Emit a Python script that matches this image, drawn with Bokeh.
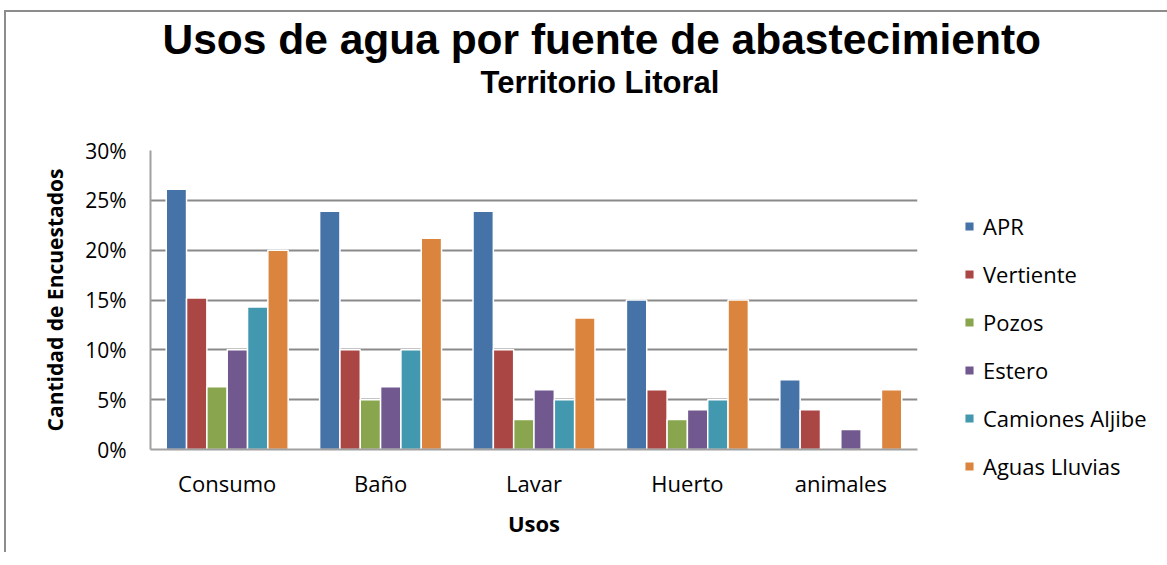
import numpy as np
from bokeh.plotting import figure
from bokeh.models import ColumnDataSource, FactorRange, Range1d, NumeralTickFormatter, Title, FixedTicker
from bokeh.transform import dodge
from bokeh.embed import file_html
from bokeh.resources import INLINE

usos = ["Consumo", "Baño", "Lavar", "Huerto", "animales"]
series_names = ["APR", "Vertiente", "Pozos", "Estero", "Camiones Aljibe", "Aguas Lluvias"]
apr = [0.261, 0.239, 0.239, 0.150, 0.070]
vertiente = [0.152, 0.100, 0.100, 0.060, 0.040]
pozos = [0.063, 0.050, 0.030, 0.030, 0.000]
estero = [0.100, 0.063, 0.060, 0.040, 0.020]
camiones = [0.143, 0.100, 0.050, 0.050, 0.000]
aguas = [0.200, 0.212, 0.132, 0.150, 0.060]
y_ticks = [0.0, 0.05, 0.10, 0.15, 0.20, 0.25, 0.30]

colors = ["#4572A7", "#AA4643", "#89A54E", "#71588F", "#4198AF", "#DB843D"]
all_series = [apr, vertiente, pozos, estero, camiones, aguas]

FONT = "Open Sans"

p = figure(
    x_range=FactorRange(*usos, range_padding=0),
    y_range=Range1d(0, 0.30),
    frame_width=767, frame_height=299,
    output_backend="svg", toolbar_location=None,
    min_border_left=144, min_border_right=234, min_border_top=138, min_border_bottom=103,
)
p.styles = {"margin-left": "4px", "margin-top": "10px",
            "border-left": "2px solid #8c8c8c", "border-top": "2px solid #8c8c8c"}

data = {"uso": usos}
for i, s in enumerate(all_series):
    data[f"s{i}"] = [v if v > 0 else np.nan for v in s]
src = ColumnDataSource(data)

pitch = 0.1325
for i, (name, col) in enumerate(zip(series_names, colors)):
    p.vbar(x=dodge("uso", (i - 2.5) * pitch, range=p.x_range), top=f"s{i}", width=pitch,
           source=src, fill_color=col, line_color="white", line_width=1.5, legend_label=name)

p.outline_line_color = None
p.xgrid.grid_line_color = None
p.ygrid.grid_line_color = "#8a8a8a"
p.ygrid.grid_line_width = 2

p.yaxis.ticker = FixedTicker(ticks=y_ticks)
p.yaxis.formatter = NumeralTickFormatter(format="0%")
for ax in (p.xaxis[0], p.yaxis[0]):
    ax.axis_line_color = "#a0a0a0"
    ax.axis_line_width = 2
    ax.major_tick_line_color = None
    ax.minor_tick_line_color = None
    ax.major_label_text_font = FONT
    ax.major_label_text_color = "black"
    ax.axis_label_text_font = FONT
    ax.axis_label_text_font_style = "bold"
    ax.axis_label_text_color = "black"

p.yaxis.major_label_text_font_size = "21px"
p.yaxis.major_label_standoff = 18
p.yaxis.axis_label = "Cantidad de Encuestados"
p.yaxis.axis_label_text_font_size = "21px"
p.yaxis.axis_label_standoff = 13

p.xaxis.major_label_text_font_size = "22px"
p.xaxis.major_label_standoff = 12
p.xaxis.axis_label = "Usos"
p.xaxis.axis_label_text_font_size = "22px"
p.xaxis.axis_label_standoff = 7

lg = p.legend[0]
p.center.remove(lg)
lg.location = "top_left"
lg.padding = 0
lg.margin = 46
lg.border_line_color = None
lg.background_fill_alpha = 0
lg.glyph_width = 12
lg.glyph_height = 12
lg.label_height = 30
lg.spacing = 18
lg.label_standoff = 8
lg.label_text_font = FONT
lg.label_text_font_size = "22px"
lg.label_text_color = "black"
lg.title = " "
lg.title_text_font_size = "8px"
lg.title_standoff = 6
p.add_layout(lg, "right")

p.title = Title(text="Usos de agua por fuente de abastecimiento", align="left", offset=12,
                standoff=0, text_font="Liberation Sans", text_font_size="42.5px",
                text_font_style="bold", text_color="black")
p.add_layout(Title(text=" ", standoff=35, text_font_size="12px"), "above")
p.add_layout(Title(text="Territorio Litoral", align="left", offset=330, standoff=0,
                   text_font="Liberation Sans", text_font_size="31px",
                   text_font_style="bold", text_color="black"), "above")

open("out.html", "w").write(file_html(p, INLINE))
